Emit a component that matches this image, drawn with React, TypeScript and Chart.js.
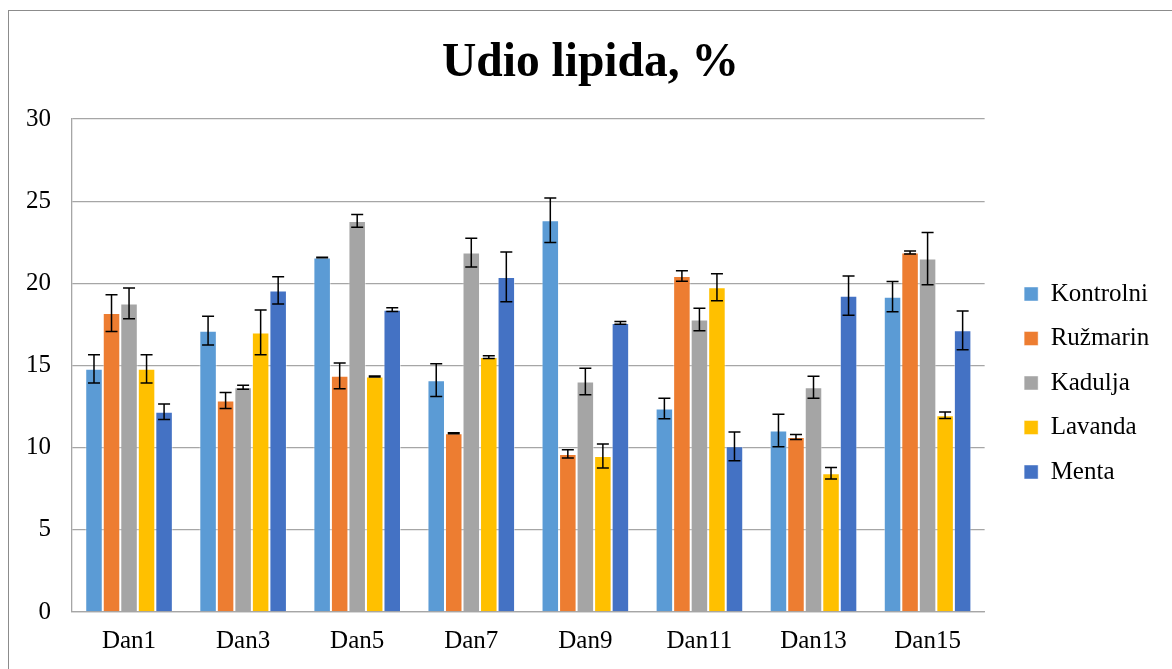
import React, { useEffect, useRef } from "react";
import { Chart, registerables } from "chart.js";

Chart.register(...registerables);

const categories = ["Dan1", "Dan3", "Dan5", "Dan7", "Dan9", "Dan11", "Dan13", "Dan15"];
const seriesNames = ["Kontrolni", "Ružmarin", "Kadulja", "Lavanda", "Menta"];
const seriesColors = ["#5B9BD5", "#ED7D31", "#A5A5A5", "#FFC000", "#4472C4"];

const kontrolni = [14.8, 17.12, 21.57, 14.11, 23.84, 12.38, 11.04, 19.19];
const kontrolniErr = [0.86, 0.88, 0.02, 0.99, 1.36, 0.62, 0.99, 0.92];
const ruzmarin = [18.19, 12.87, 14.37, 10.88, 9.62, 20.45, 10.65, 21.87];
const ruzmarinErr = [1.12, 0.48, 0.78, 0.03, 0.25, 0.32, 0.15, 0.09];
const kadulja = [18.78, 13.68, 23.8, 21.87, 14.03, 17.8, 13.68, 21.51];
const kaduljaErr = [0.93, 0.12, 0.39, 0.87, 0.81, 0.69, 0.67, 1.59];
const lavanda = [14.8, 17.01, 14.33, 15.51, 9.49, 19.76, 8.44, 11.97];
const lavandaErr = [0.86, 1.36, 0.03, 0.08, 0.73, 0.82, 0.35, 0.2];
const menta = [12.18, 19.57, 18.4, 20.39, 17.59, 10.08, 19.25, 17.14];
const mentaErr = [0.47, 0.83, 0.11, 1.51, 0.08, 0.88, 1.19, 1.18];

const seriesValues = [kontrolni, ruzmarin, kadulja, lavanda, menta];
const seriesErrors = [kontrolniErr, ruzmarinErr, kaduljaErr, lavandaErr, mentaErr];

const FONT = "'Liberation Serif', 'Times New Roman', serif";

const errorBarPlugin = {
  id: "errorBars",
  afterDatasetsDraw(chart: any) {
    const ctx = chart.ctx;
    const yScale = chart.scales.y;
    ctx.save();
    ctx.strokeStyle = "#000";
    ctx.lineWidth = 1.5;
    chart.data.datasets.forEach((ds: any, i: number) => {
      const meta = chart.getDatasetMeta(i);
      meta.data.forEach((bar: any, j: number) => {
        const v = ds.data[j];
        const e = ds.errors[j];
        const x = bar.x;
        const yT = yScale.getPixelForValue(v + e);
        const yB = yScale.getPixelForValue(v - e);
        ctx.beginPath();
        ctx.moveTo(x, yT);
        ctx.lineTo(x, yB);
        ctx.moveTo(x - 6, yT);
        ctx.lineTo(x + 6, yT);
        ctx.moveTo(x - 6, yB);
        ctx.lineTo(x + 6, yB);
        ctx.stroke();
      });
    });
    ctx.restore();
  },
};

export default function App() {
  const canvasRef = useRef<HTMLCanvasElement | null>(null);

  useEffect(() => {
    if (!canvasRef.current) return;
    const chart = new Chart(canvasRef.current, {
      type: "bar",
      data: {
        labels: categories,
        datasets: seriesNames.map((name, i) => ({
          label: name,
          data: seriesValues[i],
          errors: seriesErrors[i],
          backgroundColor: seriesColors[i],
          borderColor: "rgba(255,255,255,0.45)",
          borderWidth: 1,
          categoryPercentage: 0.768,
          barPercentage: 1,
        })) as any,
      },
      options: {
        responsive: false,
        animation: false,
        layout: { padding: 0 },
        plugins: {
          tooltip: { enabled: false },
          title: {
            display: true,
            text: "Udio lipida, %",
            color: "#000",
            font: { family: FONT, size: 47.5, weight: "bold", lineHeight: 1.2 },
            padding: { top: 24, bottom: 27 },
          },
          legend: {
            display: true,
            position: "right",
            align: "center",
            fullSize: false,
            title: {
              display: true,
              text: " ",
              font: { family: FONT, size: 10, lineHeight: 1.2 },
              padding: { top: 0, bottom: 23 },
            },
            labels: {
              color: "#000",
              font: { family: FONT, size: 25 },
              boxWidth: 14,
              boxHeight: 14,
              padding: 19.5,
            },
          },
        },
        scales: {
          x: {
            grid: { display: false, drawTicks: false },
            border: { display: true, color: "#a6a6a6", width: 1.3 },
            ticks: {
              color: "#000",
              font: { family: FONT, size: 25 },
              padding: 14,
              maxRotation: 0,
            },
            afterFit: (s: any) => {
              s.height = 57;
            },
          },
          y: {
            min: 0,
            max: 30,
            ticks: {
              stepSize: 5,
              color: "#000",
              font: { family: FONT, size: 25 },
              padding: 21,
            },
            grid: { color: "#a6a6a6", lineWidth: 1.3, drawTicks: false },
            border: { display: true, color: "#a6a6a6", width: 1.3 },
            afterFit: (s: any) => {
              s.width = 63;
            },
          },
          yR: {
            position: "right",
            display: true,
            weight: 0,
            ticks: { display: false },
            grid: { display: false, drawTicks: false },
            border: { display: false },
            afterFit: (s: any) => {
              s.width = 20;
            },
          },
          yOuter: {
            position: "right",
            display: true,
            weight: 2000,
            ticks: { display: false },
            grid: { display: false, drawTicks: false },
            border: { display: false },
            afterFit: (s: any) => {
              s.width = 22;
            },
          },
        },
      } as any,
      plugins: [errorBarPlugin],
    });
    return () => chart.destroy();
  }, []);

  return (
    <div
      style={{
        position: "fixed",
        left: 0,
        top: 0,
        width: 1172,
        height: 669,
        overflow: "hidden",
        background: "#fff",
      }}
    >
      <div
        style={{
          position: "absolute",
          left: 8,
          top: 10,
          width: 1200,
          height: 700,
          borderLeft: "1px solid #8c8c8c",
          borderTop: "1px solid #8c8c8c",
          background: "#fff",
        }}
      >
        <canvas
          ref={canvasRef}
          width={1163}
          height={658}
          style={{ display: "block", width: 1163, height: 658 }}
        />
      </div>
    </div>
  );
}
